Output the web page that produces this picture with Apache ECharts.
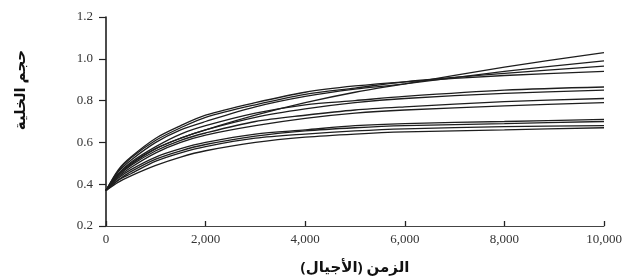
<!DOCTYPE html>
<html>
<head>
<meta charset="utf-8">
<style>
  html, body { margin: 0; padding: 0; background: #fff; }
  #chart { width: 627px; height: 280px; }
</style>
<script src="https://cdn.jsdelivr.net/npm/echarts@6/dist/echarts.min.js"></script>
</head>
<body>
<div id="chart"></div>
<script>
// generations sampled along the x axis
const generations = [0, 250, 500, 1000, 1500, 2000, 3000, 4000, 5000, 6000, 8000, 10000];

// cell size for each replicate population
const line1  = [0.37, 0.45, 0.50, 0.57, 0.62, 0.66, 0.73, 0.79, 0.84, 0.88, 0.96, 1.03];
const line2  = [0.37, 0.46, 0.515, 0.60, 0.66, 0.70, 0.77, 0.82, 0.855, 0.88, 0.94, 0.99];
const line3  = [0.37, 0.465, 0.525, 0.61, 0.67, 0.72, 0.78, 0.83, 0.86, 0.89, 0.93, 0.965];
const line4  = [0.37, 0.47, 0.53, 0.62, 0.68, 0.73, 0.79, 0.84, 0.87, 0.89, 0.92, 0.94];
const line5  = [0.37, 0.45, 0.505, 0.58, 0.64, 0.68, 0.74, 0.78, 0.80, 0.82, 0.85, 0.865];
const line6  = [0.37, 0.445, 0.495, 0.57, 0.62, 0.66, 0.72, 0.76, 0.79, 0.81, 0.835, 0.85];
const line7  = [0.37, 0.44, 0.49, 0.56, 0.61, 0.645, 0.70, 0.73, 0.755, 0.77, 0.795, 0.81];
const line8  = [0.37, 0.435, 0.48, 0.55, 0.60, 0.635, 0.68, 0.715, 0.74, 0.755, 0.775, 0.79];
const line9  = [0.37, 0.43, 0.47, 0.53, 0.57, 0.60, 0.64, 0.66, 0.68, 0.69, 0.70, 0.71];
const line10 = [0.37, 0.42, 0.46, 0.52, 0.56, 0.59, 0.63, 0.655, 0.67, 0.68, 0.69, 0.70];
const line11 = [0.37, 0.42, 0.45, 0.51, 0.55, 0.58, 0.62, 0.64, 0.655, 0.665, 0.675, 0.68];
const line12 = [0.37, 0.41, 0.44, 0.49, 0.53, 0.56, 0.60, 0.625, 0.64, 0.65, 0.66, 0.67];

const allLines = [line1, line2, line3, line4, line5, line6, line7, line8, line9, line10, line11, line12];

const xTitle = 'الزمن (الأجيال)';
const yTitle = 'حجم الخلية';

const chart = echarts.init(document.getElementById('chart'));

const serif = '"Liberation Serif", "DejaVu Serif", serif';
const ink = '#111';

const series = allLines.map((vals, i) => ({
  name: 'pop' + (i + 1),
  type: 'line',
  smooth: 0.3,
  showSymbol: false,
  silent: true,
  data: generations.map((g, j) => [g, vals[j]]),
  lineStyle: { color: '#1e1e1e', width: 1.3 }
}));

const option = {
  backgroundColor: '#fff',
  animation: false,
  grid: { left: 106, right: 23, top: 17, bottom: 53 },
  xAxis: {
    type: 'value',
    min: 0,
    max: 10000,
    interval: 2000,
    name: xTitle,
    nameLocation: 'middle',
    nameGap: 34,
    nameTextStyle: { color: ink, fontSize: 15, fontWeight: 'bold', fontFamily: '"Noto Sans", "DejaVu Sans", sans-serif' },
    axisLine: { lineStyle: { color: '#444', width: 1 } },
    axisTick: { inside: true, length: 5, lineStyle: { color: '#222', width: 1.3 } },
    axisLabel: {
      color: '#333', fontSize: 13, fontFamily: serif, margin: 7,
      formatter: v => v.toLocaleString('en-US')
    },
    splitLine: { show: false }
  },
  yAxis: {
    type: 'value',
    min: 0.2,
    max: 1.2,
    interval: 0.2,
    axisLine: { show: true, lineStyle: { color: '#111', width: 1.5 } },
    axisTick: { show: true, length: 7, lineStyle: { color: '#222', width: 1.2 } },
    axisLabel: {
      color: '#333', fontSize: 13, fontFamily: serif, margin: 13,
      formatter: v => v.toFixed(1)
    },
    splitLine: { show: false }
  },
  graphic: [{
    type: 'text',
    left: 13,
    top: 50,
    rotation: Math.PI / 2,
    style: {
      text: yTitle,
      fill: ink,
      font: 'bold 15px "Noto Sans", "DejaVu Sans", sans-serif'
    }
  }],
  series: series
};

chart.setOption(option);
</script>
</body>
</html>
